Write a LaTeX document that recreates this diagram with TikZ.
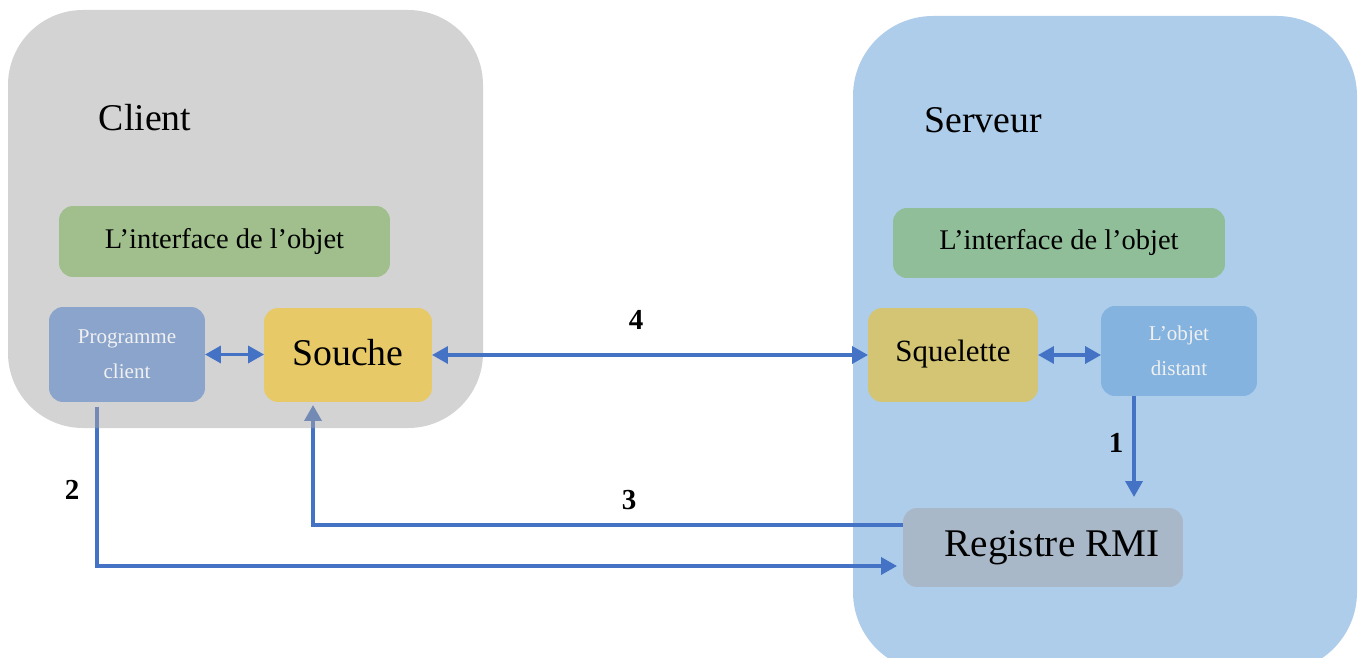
\documentclass[tikz,border=0pt]{standalone}
\usepackage{fontspec}
\setmainfont{Liberation Serif}
\usetikzlibrary{arrows.meta}
\pgfdeclarelayer{back}
\pgfdeclarelayer{wires}
\pgfdeclarelayer{front}
\pgfsetlayers{back,wires,front,main}
\definecolor{wireblue}{HTML}{4472C4}
\definecolor{clientgray}{HTML}{A5A5A5}
\definecolor{serverblue}{HTML}{AECDEA}
\definecolor{ifcgreen}{HTML}{A0BF8C}
\definecolor{ifsgreen}{HTML}{8FBE99}
\definecolor{progblue}{HTML}{8AA4CC}
\definecolor{souchegold}{HTML}{E8C967}
\definecolor{squelgold}{HTML}{D4C574}
\definecolor{objetblue}{HTML}{84B3DF}
\definecolor{reggray}{HTML}{A8B8C9}
\begin{document}
\begin{tikzpicture}[x=0.02cm, y=-0.02cm, >={Triangle[length=3.2mm,width=3.4mm]},
    every node/.style={inner sep=0pt, outer sep=0pt},
    box/.style={rounded corners=0.28cm, text=black},
    smallbox/.style={box, text=white!94!black, align=center, font=\fontsize{12}{20}\selectfont},
    title/.style={font=\fontsize{21.5}{26}\selectfont},
    num/.style={font=\bfseries\fontsize{16.5}{20}\selectfont},
    link/.style={wireblue, line width=2pt}]
    \useasboundingbox (0,0) rectangle (1359,658);
    % panels
    \begin{pgfonlayer}{back}
    \fill[serverblue, rounded corners=1.6cm] (853,16) rectangle (1357,672);
    \end{pgfonlayer}
    \begin{pgfonlayer}{front}
    \fill[clientgray, fill opacity=.49, rounded corners=1.5cm] (8,10) rectangle (483,428);
    \end{pgfonlayer}
    \node[title](client) at (145,118) {Client};
    \node[title](serveur) at (983,120) {Serveur};

    \node[box, fill=ifcgreen, minimum width=6.62cm, minimum height=1.42cm, font=\fontsize{16.2}{20}\selectfont](ifc) at (224.5,241.5) {L’interface de l’objet};
    \node[box, fill=ifsgreen, minimum width=6.64cm, minimum height=1.40cm, font=\fontsize{16.2}{20}\selectfont](ifs) at (1059,243) {L’interface de l’objet};

    \node[smallbox, fill=progblue, minimum width=3.12cm, minimum height=1.9cm](prog) at (127,354.5) {Programme\\client};
    \node[box, fill=souchegold, minimum width=3.36cm, minimum height=1.88cm, title](souche) at (348,355) {\raisebox{3.4pt}{Souche}};
    \node[box, fill=squelgold, minimum width=3.4cm, minimum height=1.88cm, font=\fontsize{17.6}{22}\selectfont](squel) at (953,355) {\raisebox{4.5pt}{Squelette}};
    \node[smallbox, fill=objetblue, minimum width=3.12cm, minimum height=1.8cm](objet) at (1179,351) {L’objet\\distant};
    \node[box, fill=reggray, minimum width=5.6cm, minimum height=1.58cm, font=\fontsize{22.3}{26}\selectfont](reg) at (1043,547.5) {\hspace*{0.36cm}Registre RMI};

    \node[num](n1) at (1116,443) {1};
    \node[num](n2) at (72,490) {2};
    \node[num](n3) at (629,500) {3};
    \node[num](n4) at (636,320) {4};

    \draw[link, <->] (prog.east) -- (prog.east -| souche.west);
    \draw[link, <->] (souche.east) -- (souche.east -| squel.west);
    \draw[link, <->] (squel.east) -- (squel.east -| objet.west);
    \draw[link, ->, shorten >=0.22cm] ([xshift=-0.9cm]objet.south) -- ([xshift=-0.9cm]objet.south |- reg.north);
    \begin{pgfonlayer}{wires}
    \draw[link, ->] ([yshift=0.45cm]reg.west) -| ([xshift=-0.7cm, yshift=-0.06cm]souche.south);
    \draw[link, ->] ([xshift=-0.6cm, yshift=-0.1cm]prog.south) |- ([xshift=-0.12cm, yshift=-0.37cm]reg.west);
    \end{pgfonlayer}
\end{tikzpicture}
\end{document}
